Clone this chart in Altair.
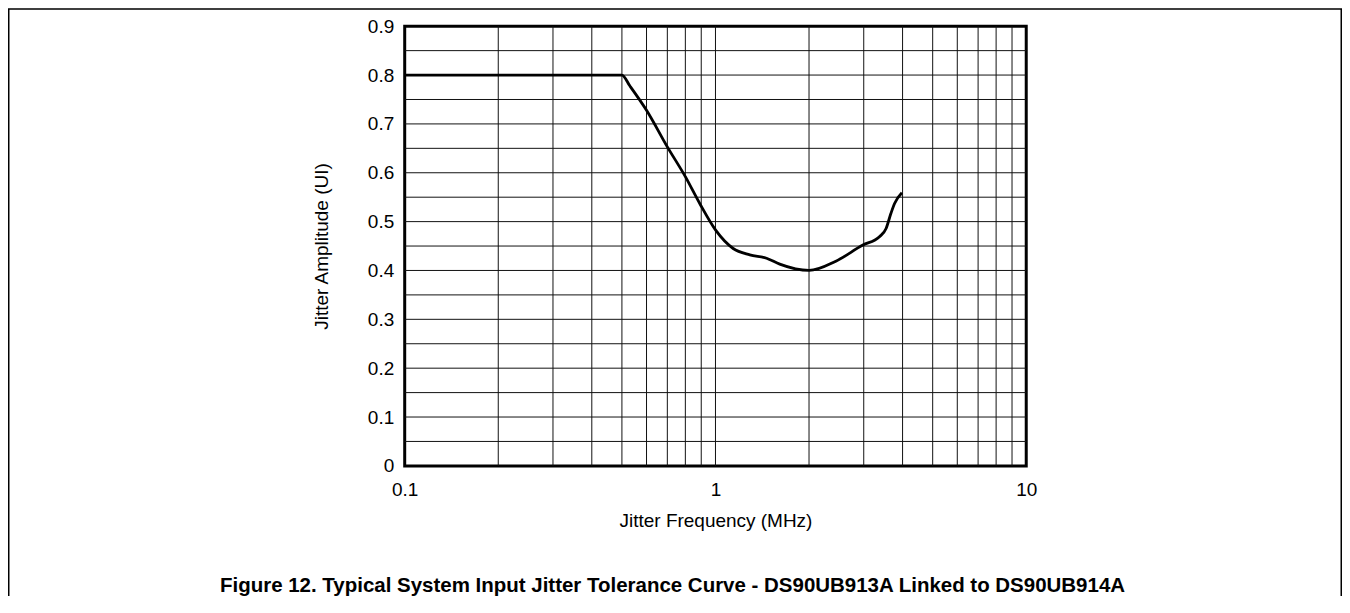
import altair as alt
import pandas as pd

# Jitter tolerance curve
freq_mhz = [0.1, 0.5, 0.53, 0.6, 0.7, 0.8, 0.89, 1.0, 1.14, 1.29, 1.46, 1.61, 2.0,
            2.44, 2.98, 3.37, 3.54, 3.67, 3.77, 3.98]
jitter_ui = [0.8, 0.8, 0.778, 0.728, 0.653, 0.592, 0.537, 0.483, 0.445, 0.432, 0.425,
             0.413, 0.400, 0.419, 0.452, 0.469, 0.486, 0.517, 0.537, 0.559]

# Grid positions and tick labels
grid_x = [0.2, 0.3, 0.4, 0.5, 0.6, 0.7, 0.8, 0.9, 1, 2, 3, 4, 5, 6, 7, 8, 9]
grid_y = [0.05, 0.1, 0.15, 0.2, 0.25, 0.3, 0.35, 0.4, 0.45, 0.5, 0.55, 0.6,
          0.65, 0.7, 0.75, 0.8, 0.85]
x_ticks = [0.1, 1, 10]
y_ticks = [0, 0.1, 0.2, 0.3, 0.4, 0.5, 0.6, 0.7, 0.8, 0.9]

caption = "Figure 12. Typical System Input Jitter Tolerance Curve - DS90UB913A Linked to DS90UB914A"

FONT = "Liberation Sans"

xscale = alt.Scale(type="log", domain=[0.1, 10], nice=False)
yscale = alt.Scale(domain=[0, 0.9], nice=False, zero=False)

X = alt.X("f:Q", scale=xscale,
          axis=alt.Axis(values=x_ticks, format="~g", title="Jitter Frequency (MHz)",
                        labelFlush=False, labelPadding=15, titlePadding=12))
Y = alt.Y("v:Q", scale=yscale,
          axis=alt.Axis(values=y_ticks, format=".1~f", title="Jitter Amplitude (UI)",
                        labelFlush=False, labelPadding=11, titlePadding=36))

curve_df = pd.DataFrame({"f": freq_mhz, "v": jitter_ui})
gx_df = pd.DataFrame({"f": grid_x})
gy_df = pd.DataFrame({"v": grid_y})
one = pd.DataFrame({"a": [0]})

vgrid = alt.Chart(gx_df).mark_rule(color="#111111", strokeWidth=1).encode(x=X)
hgrid = alt.Chart(gy_df).mark_rule(color="#111111", strokeWidth=1).encode(y=Y)

line = alt.Chart(curve_df).mark_line(color="black", strokeWidth=2.8,
                                     interpolate="monotone").encode(x=X, y=Y)

frame = alt.Chart(one).mark_rect(fillOpacity=0, stroke="black", strokeWidth=1.5,
                                 clip=False).encode(
    x=alt.value(-396.25), x2=alt.value(937.25),
    y=alt.value(-17.25), y2=alt.value(700))

cap = alt.Chart(one).mark_text(font=FONT, fontSize=20.5, fontWeight="bold",
                               color="black", align="center",
                               baseline="middle").encode(
    x=alt.value(268), y=alt.value(560), text=alt.value(caption))

chart = alt.layer(vgrid, hgrid, line, frame, cap).properties(
    width=622, height=440,
    padding={"left": 397, "top": 18, "right": 316, "bottom": 130},
    autosize="none",
    background="white",
).configure_view(
    stroke="black", strokeWidth=3
).configure_axis(
    domain=False, ticks=False, grid=False,
    labelFont=FONT, labelFontSize=19, labelColor="black",
    titleFont=FONT, titleFontSize=19, titleFontWeight="normal", titleColor="black",
)

chart.save("out.html", embed_options={"renderer": "svg", "actions": False})
